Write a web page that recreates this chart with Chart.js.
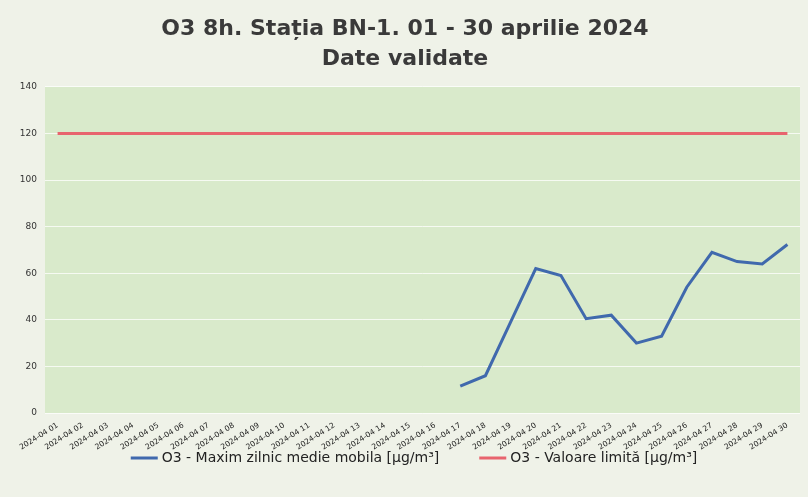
<!DOCTYPE html>
<html>
<head>
<meta charset="utf-8">
<script src="https://cdn.jsdelivr.net/npm/chart.js@4"></script>
<style>
	body { margin: 0; background: #eff2e8; }
	#wrap { width: 808px; height: 497px; }
</style>
</head>
<body>
<div id="wrap"><canvas id="chart"></canvas></div>
<script>
var days = ['2024-04 01','2024-04 02','2024-04 03','2024-04 04','2024-04 05','2024-04 06','2024-04 07','2024-04 08','2024-04 09','2024-04 10',
	'2024-04 11','2024-04 12','2024-04 13','2024-04 14','2024-04 15','2024-04 16','2024-04 17','2024-04 18','2024-04 19','2024-04 20',
	'2024-04 21','2024-04 22','2024-04 23','2024-04 24','2024-04 25','2024-04 26','2024-04 27','2024-04 28','2024-04 29','2024-04 30']
var maxDaily = [null,null,null,null,null,null,null,null,null,null,
	null,null,null,null,null,null,11.5,16,39,62,
	59,40.5,42,30,33,54,69,65,64,72.3]
var limit = [120,120,120,120,120,120,120,120,120,120,
	120,120,120,120,120,120,120,120,120,120,
	120,120,120,120,120,120,120,120,120,120]

const bgPlugin = {
	id: 'bg',
	afterLayout(chart) {
		// let the rotated date labels run below the (shortened) x axis box
		chart.scales.x.bottom = chart.height
	},
	beforeDraw(chart) {
		const c = chart.ctx, a = chart.chartArea
		c.save()
		c.fillStyle = '#eff2e8'
		c.fillRect(0, 0, chart.width, chart.height)
		c.fillStyle = '#d9eacb'
		c.fillRect(a.left, a.top, a.right - a.left, a.bottom - a.top)
		c.restore()
	}
}

// legend drawn by hand so the gap between the two items can be wider
const legendPlugin = {
	id: 'myLegend',
	afterDraw(chart) {
		const c = chart.ctx
		const sets = chart.data.datasets
		const lineW = 27, gapText = 4, gapItem = 40, y = 458
		c.save()
		c.font = '14px "DejaVu Sans"'
		c.textBaseline = 'middle'
		let total = 0
		sets.forEach((d, i) => { total += lineW + gapText + c.measureText(d.label).width + (i ? gapItem : 0) })
		let x = 414 - total / 2
		sets.forEach((d, i) => {
			if (i) x += gapItem
			c.fillStyle = d.borderColor
			c.fillRect(x, y - 1.5, lineW, 3)
			x += lineW + gapText
			c.fillStyle = '#222'
			c.fillText(d.label, x, y)
			x += c.measureText(d.label).width
		})
		c.restore()
	}
}

document.addEventListener("DOMContentLoaded", (e) => {
	const ctx = document.getElementById('chart');
	new Chart(ctx, {
		type: 'line',
		data: {
			labels: days,
			datasets: [{
				label: 'O3 - Maxim zilnic medie mobila [µg/m³]',
				data: maxDaily,
				borderColor: '#4069ad',
				backgroundColor: '#4069ad',
				borderWidth: 3,
				pointRadius: 0,
				spanGaps: false,
			}, {
				label: 'O3 - Valoare limită [µg/m³]',
				data: limit,
				borderColor: '#e8646e',
				backgroundColor: '#e8646e',
				borderWidth: 3,
				pointRadius: 0,
			}],
		},
		options: {
			responsive: true,
			maintainAspectRatio: false,
			animation: false,
			layout: { padding: { left: 10, right: 8, top: 10, bottom: 49 } },
			scales: {
				x: {
					offset: true,
					grid: { display: false },
					border: { display: false },
					ticks: {
						autoSkip: false,
						minRotation: 32, maxRotation: 32,
						color: '#1a1a1a',
						font: { family: 'DejaVu Sans', size: 7.6 },
						padding: 0
					},
					afterFit(s) { s.height = 35 }
				},
				y: {
					min: 0, max: 140,
					ticks: { stepSize: 20, color: '#333', font: { family: 'DejaVu Sans', size: 9 }, padding: 8 },
					grid: { color: 'rgba(255,255,255,0.75)', lineWidth: 1, drawTicks: false },
					border: { display: false },
					afterFit(s) { s.width = 35 }
				}
			},
			plugins: {
				title: {
					display: true,
					text: ['O3 8h. Stația BN-1. 01 - 30 aprilie 2024', 'Date validate'],
					color: '#3a3a3a',
					font: { family: 'DejaVu Sans', size: 22, weight: 'bold', lineHeight: 1.36 },
					padding: { top: 4, bottom: 13 }
				},
				legend: { display: false }
			}
		},
		plugins: [bgPlugin, legendPlugin]
	});
});
</script>
</body>
</html>
